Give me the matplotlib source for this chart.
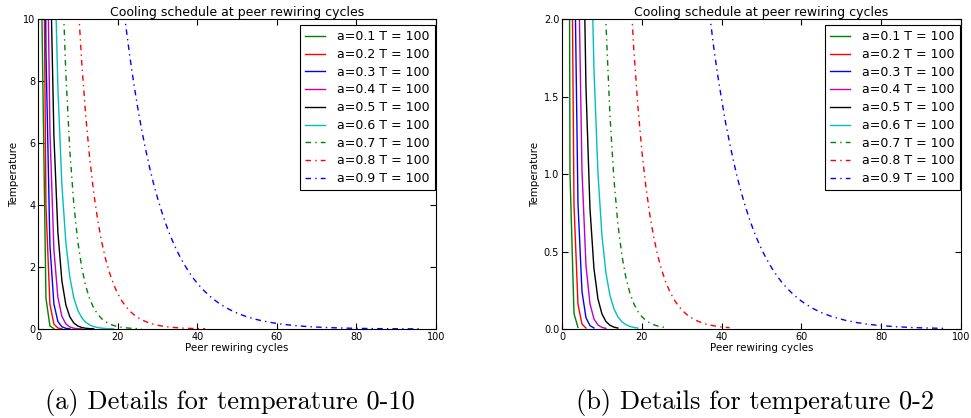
import matplotlib
matplotlib.use('Agg')
import matplotlib.pyplot as plt

# cooling schedule values T(k), one list per alpha (k = 0, 1, 2, ...)
t_a01 = [100, 10, 1, 0.1, 0.01]
t_a02 = [100, 20, 4, 0.8, 0.16, 0.032, 0.0064]
t_a03 = [100, 30, 9, 2.7, 0.81, 0.243, 0.0729, 0.0219, 0.0066]
t_a04 = [100, 40, 16, 6.4, 2.56, 1.024, 0.41, 0.164, 0.0655, 0.0262, 0.0105, 0.0042]
t_a05 = [100, 50, 25, 12.5, 6.25, 3.125, 1.5625, 0.781, 0.391, 0.195, 0.0977,
         0.0488, 0.0244, 0.0122, 0.0061]
t_a06 = [100, 60, 36, 21.6, 12.96, 7.776, 4.666, 2.799, 1.680, 1.008, 0.605,
         0.363, 0.218, 0.131, 0.0784, 0.047, 0.0282, 0.0169, 0.0102, 0.0061]
t_a07 = [100, 70, 49, 34.3, 24.01, 16.81, 11.76, 8.235, 5.765, 4.035, 2.825,
         1.977, 1.384, 0.969, 0.678, 0.475, 0.332, 0.233, 0.163, 0.114, 0.0798,
         0.0559, 0.0391, 0.0274, 0.0192, 0.0134, 0.0094]
t_a08 = [100, 80, 64, 51.2, 40.96, 32.77, 26.21, 20.97, 16.78, 13.42, 10.74,
         8.59, 6.87, 5.50, 4.40, 3.52, 2.81, 2.25, 1.80, 1.44, 1.15, 0.922, 0.738,
         0.590, 0.472, 0.378, 0.302, 0.242, 0.193, 0.155, 0.124, 0.099, 0.079,
         0.063, 0.051, 0.041, 0.032, 0.026, 0.021, 0.017, 0.013, 0.011, 0.0085]
t_a09 = [100, 90, 81, 72.9, 65.61, 59.05, 53.14, 47.83, 43.05, 38.74, 34.87,
         31.38, 28.24, 25.42, 22.88, 20.59, 18.53, 16.68, 15.01, 13.51, 12.16,
         10.94, 9.85, 8.86, 7.98, 7.18, 6.46, 5.82, 5.23, 4.71, 4.24, 3.82, 3.43,
         3.09, 2.78, 2.50, 2.25, 2.03, 1.82, 1.64, 1.48, 1.33, 1.20, 1.08, 0.970,
         0.873, 0.786, 0.707, 0.636, 0.573, 0.515, 0.464, 0.417, 0.376, 0.338,
         0.304, 0.274, 0.247, 0.222, 0.200, 0.180, 0.162, 0.146, 0.131, 0.118,
         0.106, 0.096, 0.086, 0.077, 0.070, 0.063, 0.056, 0.051, 0.046, 0.041,
         0.037, 0.033, 0.030, 0.027, 0.024, 0.022, 0.020, 0.018, 0.016, 0.014,
         0.013, 0.012, 0.010, 0.0094, 0.0085, 0.0076, 0.0069, 0.0062, 0.0056,
         0.0050, 0.0045, 0.0041]

series = [t_a01, t_a02, t_a03, t_a04, t_a05, t_a06, t_a07, t_a08, t_a09]
labels = ['a=0.1 T = 100', 'a=0.2 T = 100', 'a=0.3 T = 100', 'a=0.4 T = 100',
          'a=0.5 T = 100', 'a=0.6 T = 100', 'a=0.7 T = 100', 'a=0.8 T = 100',
          'a=0.9 T = 100']
colors = ['g', 'r', 'b', 'm', 'k', 'c', 'g', 'r', 'b']
styles = ['-', '-', '-', '-', '-', '-', '-.', '-.', '-.']

ylims = [10, 2]
captions = ['(a) Details for temperature 0-10', '(b) Details for temperature 0-2']

plt.rcParams['xtick.direction'] = 'in'
plt.rcParams['ytick.direction'] = 'in'
plt.rcParams['xtick.top'] = True
plt.rcParams['ytick.right'] = True

fig = plt.figure(figsize=(9.71, 4.18), dpi=100)
positions = [[0.0391, 0.2129, 0.41, 0.7416], [0.5788, 0.2129, 0.411, 0.7416]]

for i in range(2):
    ax = fig.add_axes(positions[i])
    for vals, lab, col, ls in zip(series, labels, colors, styles):
        ax.plot(range(len(vals)), vals, color=col, linestyle=ls, lw=1.0, label=lab,
                dashes=(4, 3, 1, 3) if ls == '-.' else (None, None))
    ax.set_xlim(0, 100)
    ax.set_ylim(0, ylims[i])
    ax.set_xticks([0, 20, 40, 60, 80, 100])
    if i == 1:
        ax.set_yticks([0, 0.5, 1.0, 1.5, 2.0])
        ax.set_yticklabels(['0.0', '0.5', '1.0', '1.5', '2.0'])
    ax.tick_params(labelsize=7, length=4, width=0.8, pad=2)
    ax.set_title('Cooling schedule at peer rewiring cycles', fontsize=9, pad=2)
    ax.set_xlabel('Peer rewiring cycles', fontsize=7.4, labelpad=1)
    ax.set_ylabel('Temperature', fontsize=7.4, labelpad=3)
    leg = ax.legend(loc='upper right', bbox_to_anchor=(0.997, 0.98), borderaxespad=0,
                    fontsize=9, handlelength=1.55, handletextpad=1.0,
                    labelspacing=0.38, fancybox=False, framealpha=1, edgecolor='k')
    leg.get_frame().set_linewidth(0.8)
    fig.text(positions[i][0] + positions[i][2] / 2 - 0.007, 0.036, captions[i],
             ha='center', va='center', fontsize=19, family='cmr10')

fig.savefig('out.png', dpi=100)
